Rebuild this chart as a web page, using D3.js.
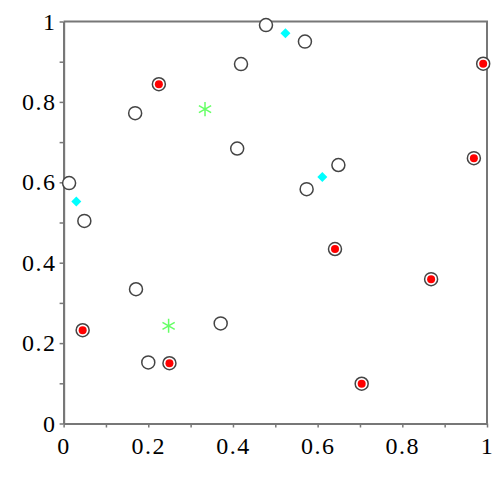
<!DOCTYPE html>
<html>
<head>
<meta charset="utf-8">
<script src="https://cdn.jsdelivr.net/npm/d3@7"></script>
<style>
  body { margin: 0; background: #fff; }
</style>
</head>
<body>
<script>
// point sets
var openX = [0.013, 0.049, 0.169, 0.171, 0.200, 0.371, 0.410, 0.419, 0.478, 0.570, 0.574, 0.649];
var openY = [0.598, 0.504, 0.772, 0.334, 0.152, 0.249, 0.684, 0.894, 0.991, 0.950, 0.583, 0.643];
var redX = [0.045, 0.225, 0.250, 0.641, 0.704, 0.868, 0.969, 0.991];
var redY = [0.232, 0.844, 0.150, 0.434, 0.099, 0.359, 0.660, 0.895];
var diamondX = [0.030, 0.524, 0.611];
var diamondY = [0.552, 0.971, 0.613];
var starX = [0.334, 0.248];
var starY = [0.782, 0.243];
var tickValues = [0, 0.2, 0.4, 0.6, 0.8, 1];
var minorTicks = [0.1, 0.3, 0.5, 0.7, 0.9];

var margin = {top: 21.5, right: 13, bottom: 76.5, left: 63.6},
    width = 500 - margin.left - margin.right,
    height = 500 - margin.top - margin.bottom;

var svg = d3.select("body").append("svg")
    .attr("width", 500)
    .attr("height", 500)
  .append("g")
    .attr("transform", "translate(" + margin.left + "," + margin.top + ")");

var x = d3.scaleLinear().domain([0, 1]).range([0, width]);
var y = d3.scaleLinear().domain([0, 1]).range([height, 0]);

var axisColor = "#777";

// frame: top and right lines
svg.append("path")
    .attr("d", "M0,0H" + width + "V" + height)
    .attr("fill", "none")
    .attr("stroke", axisColor)
    .attr("stroke-width", 2);

function styleAxis(g) {
  g.select(".domain").attr("stroke", axisColor).attr("stroke-width", 2);
  g.selectAll(".tick line").attr("stroke", axisColor).attr("stroke-width", 1.5);
  g.selectAll("text")
      .attr("fill", "#000")
      .style("font-family", "'Liberation Serif'")
      .style("font-size", "24px")
      .style("letter-spacing", "1.5px");
}

// minor ticks (no labels)
svg.append("g")
    .attr("transform", "translate(0," + height + ")")
    .call(d3.axisBottom(x).tickValues(minorTicks).tickSize(4).tickFormat("").tickSizeOuter(0))
    .call(styleAxis);
svg.append("g")
    .call(d3.axisLeft(y).tickValues(minorTicks).tickSize(4).tickFormat("").tickSizeOuter(0))
    .call(styleAxis);

var fmt = function(d) { return d === 0 || d === 1 ? d3.format("d")(d) : d3.format(".1f")(d); };

// major ticks with labels
svg.append("g")
    .attr("transform", "translate(0," + height + ")")
    .call(d3.axisBottom(x).tickValues(tickValues).tickSize(4).tickPadding(9.5).tickSizeOuter(0).tickFormat(fmt))
    .call(styleAxis);
svg.append("g")
    .call(d3.axisLeft(y).tickValues(tickValues).tickSize(4).tickPadding(3).tickSizeOuter(0).tickFormat(fmt))
    .call(styleAxis);

// open circles
svg.selectAll("circle.open")
    .data(d3.zip(openX, openY))
    .enter().append("circle")
    .attr("class", "open")
    .attr("cx", function(d) { return x(d[0]); })
    .attr("cy", function(d) { return y(d[1]); })
    .attr("r", 6.5)
    .attr("fill", "#fff")
    .attr("stroke", "#444")
    .attr("stroke-width", 1.5);

// red dots with ring
var red = svg.selectAll("g.red")
    .data(d3.zip(redX, redY))
    .enter().append("g")
    .attr("class", "red")
    .attr("transform", function(d) { return "translate(" + x(d[0]) + "," + y(d[1]) + ")"; });
red.append("circle")
    .attr("r", 6.5)
    .attr("fill", "#fff")
    .attr("stroke", "#444")
    .attr("stroke-width", 1.5);
red.append("circle")
    .attr("r", 4)
    .attr("fill", "#ff0000");

// cyan diamonds
svg.selectAll("path.diamond")
    .data(d3.zip(diamondX, diamondY))
    .enter().append("path")
    .attr("class", "diamond")
    .attr("d", d3.symbol().type(d3.symbolSquare).size(50))
    .attr("transform", function(d) { return "translate(" + x(d[0]) + "," + y(d[1]) + ") rotate(45)"; })
    .attr("fill", "#00ffff");

// green stars
svg.selectAll("path.star")
    .data(d3.zip(starX, starY))
    .enter().append("path")
    .attr("class", "star")
    .attr("d", d3.symbol().type(d3.symbolAsterisk).size(140))
    .attr("transform", function(d) { return "translate(" + x(d[0]) + "," + y(d[1]) + ")"; })
    .attr("fill", "none")
    .attr("stroke", "#66ff66")
    .attr("stroke-width", 1.5);
</script>
</body>
</html>
